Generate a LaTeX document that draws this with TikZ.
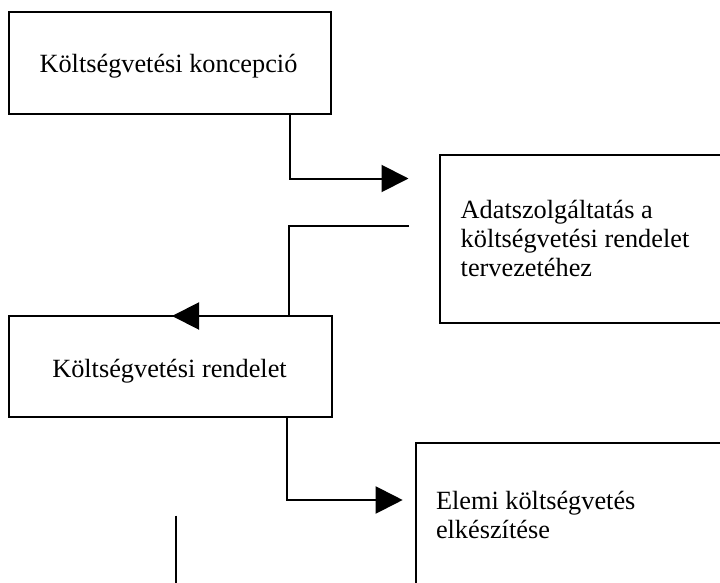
\documentclass[tikz,border=0pt]{standalone}
\usepackage{fontspec}
\setmainfont{Liberation Serif}
\usetikzlibrary{arrows.meta}
\begin{document}
\begin{tikzpicture}[x=1pt,y=-1pt,
  boxnode/.style={draw=black, line width=2pt, rectangle, inner sep=0pt, outer sep=0pt},
  txt/.style={inner sep=0pt, outer sep=0pt, font=\fontsize{26.3}{29.2}\selectfont},
  conn/.style={draw=black, line width=2pt},
  arrowconn/.style={conn, -{Triangle[length=27pt,width=27pt]}}]
\useasboundingbox (0,0) rectangle (720,583);
\clip (0,0) rectangle (720,583);
% boxes
\node[boxnode, minimum width=322pt, minimum height=102pt] (b1) at (170,63) {};
\node[boxnode, minimum width=320pt, minimum height=167.7pt] (b2) at (600,238.85) {};
\node[boxnode, minimum width=322.7pt, minimum height=101.3pt] (b3) at (170.35,366.65) {};
\node[boxnode, minimum width=344.3pt, minimum height=176.7pt] (b4) at (587.85,531.65) {};
% texts
\node[txt, anchor=base] (l1) at (168.5,72.7) {Költségvetési koncepció};
\node[txt, anchor=base west, align=left] (l2) at (460.7,276.7) {Adatszolgáltatás a\\költségvetési rendelet\\tervezetéhez};
\node[txt, anchor=base] (l3) at (169.5,377.3) {Költségvetési rendelet};
\node[txt, anchor=base west, align=left] (l4) at (436,538.8) {Elemi költségvetés\\elkészítése};
% connector 1
\coordinate (j1) at (290,178.5);
\coordinate (t1) at (408.5,178.5);
\draw[arrowconn] (b1.south -| j1) -- (j1) -- (t1);
% connector 2
\coordinate (s2) at (409,226);
\coordinate (j2) at (289,226);
\coordinate (k2) at (289,316);
\coordinate (t2) at (172,316);
\draw[conn] (s2) -- (j2) -- (b3.north -| k2);
\draw[arrowconn] (b3.north -| k2) -- (t2);
% connector 3
\coordinate (j3) at (287,500);
\coordinate (t3) at (402.7,500);
\draw[arrowconn] (b3.south -| j3) -- (j3) -- (t3);
% loose line
\coordinate (u1) at (176.3,515.7);
\coordinate (u2) at (176.3,590);
\draw[conn] (u1) -- (u2);
\end{tikzpicture}
\end{document}
